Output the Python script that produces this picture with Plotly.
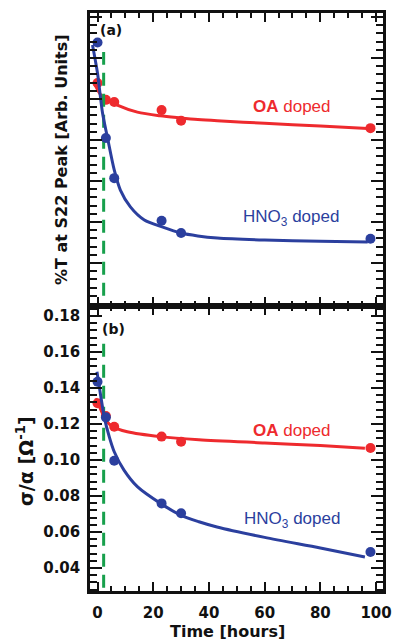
import plotly.graph_objects as go

# ---------------- data ----------------
time_h = [0, 3, 6, 23, 30, 98]

# panel (a): %T at S22 peak, arbitrary units
trans_oa = [5.39, 4.98, 4.93, 4.73, 4.47, 4.29]
trans_hno3 = [6.38, 4.05, 3.07, 2.03, 1.73, 1.59]

fit_a_oa_t = [-1.2, 1.2, 3.6, 7.1, 14.3, 22.5, 29.6, 36, 43, 60, 80, 97]
fit_a_oa_v = [5.39, 5.10, 4.98, 4.85, 4.68, 4.59, 4.54, 4.50, 4.47, 4.41, 4.34, 4.28]
fit_a_hno3_t = [-1.8, 0, 1.8, 3.6, 6, 8.2, 11.8, 16.8, 23.2, 30, 36, 43, 60, 80, 97]
fit_a_hno3_v = [6.32, 5.63, 4.66, 4.05, 3.27, 2.78, 2.37, 2.05, 1.88, 1.73, 1.66, 1.61, 1.56, 1.53, 1.51]

# panel (b): sigma/alpha [Ohm^-1]
cond_oa = [0.1315, 0.1245, 0.1185, 0.1130, 0.1102, 0.1067]
cond_hno3 = [0.1435, 0.1237, 0.0996, 0.0759, 0.0704, 0.0489]

fit_b_oa_t = [-0.6, 1.2, 3, 5.4, 10.7, 22.6, 36.4, 60, 80, 96]
fit_b_oa_v = [0.1343, 0.1278, 0.1222, 0.1185, 0.1157, 0.1130, 0.1113, 0.1095, 0.1080, 0.1065]
fit_b_hno3_t = [-0.2, 1.2, 2.4, 4.2, 6, 9.5, 14.3, 22.6, 29.8, 36.4, 42.9, 60, 80, 96]
fit_b_hno3_v = [0.149, 0.1352, 0.124, 0.113, 0.1046, 0.0944, 0.0852, 0.0759, 0.0694, 0.0657, 0.0628, 0.0570, 0.0511, 0.0461]

# vertical dashed marker
cutoff_time = 2.2
cutoff_a = [0.2, 6.15]
cutoff_b = [0.029, 0.166]

x_ticks = [0, 20, 40, 60, 80, 100]

# ---------------- style ----------------
RED = "#ee2a2e"
BLUE = "#2b3f9e"
GREEN = "#17a04c"
BLACK = "#111111"
FONT = "DejaVu Sans"
LABEL_FONT = "Liberation Sans"

W, H = 393, 641
ML, MR, MT, MB = 90, 10, 13, 50

fig = go.Figure()

def add_panel(xa, ya, fit_oa_t, fit_oa_v, oa_v, fit_h_t, fit_h_v, h_v, cut):
    fig.add_trace(go.Scatter(x=fit_oa_t, y=fit_oa_v, mode="lines",
                             line=dict(color=RED, width=3, shape="spline", smoothing=0.8),
                             xaxis=xa, yaxis=ya, hoverinfo="skip"))
    fig.add_trace(go.Scatter(x=time_h, y=oa_v, mode="markers",
                             marker=dict(color=RED, size=10),
                             xaxis=xa, yaxis=ya))
    fig.add_trace(go.Scatter(x=[cutoff_time, cutoff_time], y=cut, mode="lines",
                             line=dict(color=GREEN, width=3, dash="13px,8px"),
                             xaxis=xa, yaxis=ya, hoverinfo="skip"))
    fig.add_trace(go.Scatter(x=fit_h_t, y=fit_h_v, mode="lines",
                             line=dict(color=BLUE, width=3, shape="spline", smoothing=0.8),
                             xaxis=xa, yaxis=ya, hoverinfo="skip"))
    fig.add_trace(go.Scatter(x=time_h, y=h_v, mode="markers",
                             marker=dict(color=BLUE, size=10),
                             xaxis=xa, yaxis=ya))

add_panel("x2", "y2", fit_a_oa_t, fit_a_oa_v, trans_oa, fit_a_hno3_t, fit_a_hno3_v, trans_hno3, cutoff_a)
add_panel("x", "y", fit_b_oa_t, fit_b_oa_v, cond_oa, fit_b_hno3_t, fit_b_hno3_v, cond_hno3, cutoff_b)

XR = [-2.7, 102.5]
split = 0.4931

common_x = dict(range=XR, showgrid=False, zeroline=False, showline=True, linecolor=BLACK,
                linewidth=2.5, mirror="allticks", ticks="inside", ticklen=9, tickwidth=2,
                tickcolor=BLACK, tickvals=x_ticks, automargin=False,
                minor=dict(ticks="inside", ticklen=5, dtick=5, tick0=0, tickwidth=2, tickcolor=BLACK))

fig.update_layout(
    width=W, height=H,
    margin=dict(l=ML, r=MR, t=MT, b=MB, autoexpand=False),
    paper_bgcolor="white", plot_bgcolor="white",
    showlegend=False,
    xaxis=dict(common_x, domain=[0, 1], anchor="y", showticklabels=True,
               tickfont=dict(family=FONT, size=15, color=BLACK, weight="bold"),
               ticktext=[str(v) for v in x_ticks], ticklabelstandoff=6),
    xaxis2=dict(common_x, domain=[0, 1], anchor="y2", showticklabels=False, matches="x"),
    yaxis=dict(domain=[0, split], range=[0.0272, 0.1856], anchor="x", automargin=False,
               showgrid=False, zeroline=False, showline=True, linecolor=BLACK,
               linewidth=2.5, mirror="allticks", ticks="inside", ticklen=12, tickwidth=2,
               tickcolor=BLACK, tick0=0, dtick=0.02, tickformat=".2f",
               tickfont=dict(family=FONT, size=15, color=BLACK, weight="bold"),
               ticklabelstandoff=4,
               minor=dict(ticks="inside", ticklen=7, dtick=0.004, tick0=0, tickwidth=2, tickcolor=BLACK)),
    yaxis2=dict(domain=[split, 1], range=[-0.05, 7.1], anchor="x2", automargin=False,
                showgrid=False, zeroline=False, showline=True, linecolor=BLACK,
                linewidth=2.5, mirror="allticks", ticks="inside", ticklen=12, tickwidth=2,
                tickcolor=BLACK, tick0=0, dtick=1, showticklabels=False,
                minor=dict(ticks="inside", ticklen=7, dtick=0.2, tick0=0, tickwidth=2, tickcolor=BLACK)),
)

def px_to_paper(px, py):
    return (px - ML) / (W - ML - MR), 1 - (py - MT) / (H - MT - MB)

ann = []
# panel letters
ann.append(dict(text="<b>(a)</b>", x=0.2, y=6.68, xref="x2", yref="y2", xanchor="left", yanchor="middle",
                showarrow=False, font=dict(family=FONT, size=14, color=BLACK)))
ann.append(dict(text="<b>(b)</b>", x=0.8, y=0.1728, xref="x", yref="y", xanchor="left", yanchor="middle",
                showarrow=False, font=dict(family=FONT, size=14, color=BLACK)))
# series labels
ann.append(dict(text="<b>OA</b> doped", x=69.8, y=4.82, xref="x2", yref="y2", showarrow=False,
                font=dict(family=LABEL_FONT, size=17, color=RED)))
ann.append(dict(text="HNO<sub>3</sub> doped", x=69.3, y=2.1, xref="x2", yref="y2", showarrow=False,
                font=dict(family=LABEL_FONT, size=17, color=BLUE)))
ann.append(dict(text="<b>OA</b> doped", x=69.8, y=0.1165, xref="x", yref="y", showarrow=False,
                font=dict(family=LABEL_FONT, size=17, color=RED)))
ann.append(dict(text="HNO<sub>3</sub> doped", x=70.0, y=0.0665, xref="x", yref="y", showarrow=False,
                font=dict(family=LABEL_FONT, size=17, color=BLUE)))
# axis titles
x0, y0 = px_to_paper(61, 160)
ann.append(dict(text="<b>%T at S22 Peak [Arb. Units]</b>", x=x0, y=y0,
                xref="paper", yref="paper", showarrow=False, textangle=-90,
                xanchor="center", yanchor="middle",
                font=dict(family=FONT, size=16, color=BLACK)))
x0, y0 = px_to_paper(25, 461)
ann.append(dict(text="<b>σ/α [Ω<sup>-1</sup>]</b>", x=x0, y=y0,
                xref="paper", yref="paper", showarrow=False, textangle=-90,
                xanchor="center", yanchor="middle",
                font=dict(family=FONT, size=19, color=BLACK)))
x0, y0 = px_to_paper(227, 631)
ann.append(dict(text="<b>Time [hours]</b>", x=x0, y=y0,
                xref="paper", yref="paper", showarrow=False,
                xanchor="center", yanchor="middle",
                font=dict(family=FONT, size=16, color=BLACK)))

fig.update_layout(annotations=ann)

fig.write_html("out.html",
               config={"displayModeBar": False},
               post_script="document.body.style.margin='0';document.body.style.padding='0';")
